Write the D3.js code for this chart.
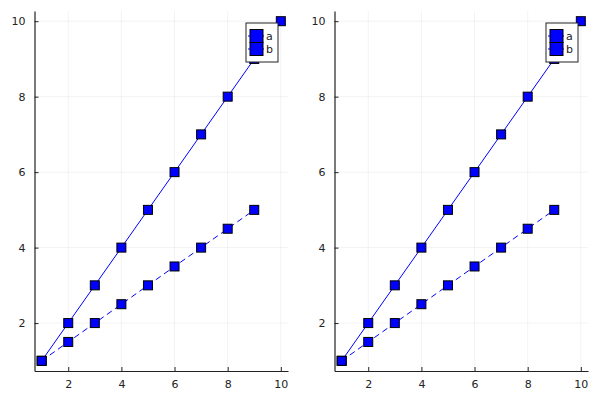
<!DOCTYPE html>
<html>
<head>
<meta charset="utf-8">
<script src="https://cdn.jsdelivr.net/npm/d3@7"></script>
<style>
body { margin: 0; background: #fff; }
text { font-family: "DejaVu Sans", sans-serif; }
</style>
</head>
<body>
<svg id="chart" width="600" height="400"></svg>
<script>
var xA = [1, 2, 3, 4, 5, 6, 7, 8, 9, 10];
var yA = [1, 2, 3, 4, 5, 6, 7, 8, 9, 10];
var xB = [1, 2, 3, 4, 5, 6, 7, 8, 9];
var yB = [1, 1.5, 2, 2.5, 3, 3.5, 4, 4.5, 5];
var seriesNames = ["a", "b"];
var tickVals = [2, 4, 6, 8, 10];

var svg = d3.select("#chart");
var panelOffsets = [0, 300];

panelOffsets.forEach(function(off) {
    drawPanel(off);
});

function drawPanel(off) {
    var left = off + 34.5, right = off + 288, top = 11, bottom = 371;
    var x = d3.scaleLinear().domain([0.73, 10.27]).range([left, right]);
    var y = d3.scaleLinear().domain([0.73, 10.27]).range([bottom, top]);
    var g = svg.append("g");

    // grid
    g.selectAll("line.gx").data(tickVals).enter().append("line")
        .attr("x1", function(d) { return x(d); }).attr("x2", function(d) { return x(d); })
        .attr("y1", top).attr("y2", bottom)
        .attr("stroke", "#000").attr("stroke-opacity", 0.1).attr("stroke-width", 0.5);
    g.selectAll("line.gy").data(tickVals).enter().append("line")
        .attr("y1", function(d) { return y(d); }).attr("y2", function(d) { return y(d); })
        .attr("x1", left).attr("x2", right)
        .attr("stroke", "#000").attr("stroke-opacity", 0.1).attr("stroke-width", 0.5);

    // axes
    var xAxis = g.append("g").attr("transform", "translate(0," + bottom + ")")
        .call(d3.axisBottom(x).tickValues(tickVals).tickSizeInner(-4).tickSizeOuter(0).tickPadding(9));
    var yAxis = g.append("g").attr("transform", "translate(" + left + ",0)")
        .call(d3.axisLeft(y).tickValues(tickVals).tickSizeInner(-4).tickSizeOuter(0).tickPadding(9));
    [xAxis, yAxis].forEach(function(a) {
        a.select(".domain").attr("stroke", "#222").attr("stroke-width", 1.2);
        a.selectAll(".tick line").attr("stroke", "#222");
        a.selectAll(".tick text").attr("fill", "#222").style("font-size", "11px")
            .style("font-family", "DejaVu Sans, sans-serif");
    });

    var line = d3.line().x(function(d) { return x(d[0]); }).y(function(d) { return y(d[1]); });
    var dataA = d3.zip(xA, yA);
    var dataB = d3.zip(xB, yB);

    g.append("path").datum(dataA).attr("d", line)
        .attr("fill", "none").attr("stroke", "#0000ff").attr("stroke-width", 1);
    g.append("path").datum(dataB).attr("d", line)
        .attr("fill", "none").attr("stroke", "#0000ff").attr("stroke-width", 1)
        .attr("stroke-dasharray", "6,4");

    var ms = 9;
    [dataA, dataB].forEach(function(data) {
        g.selectAll(null).data(data).enter().append("rect")
            .attr("x", function(d) { return x(d[0]) - ms / 2; })
            .attr("y", function(d) { return y(d[1]) - ms / 2; })
            .attr("width", ms).attr("height", ms)
            .attr("fill", "#0000ff").attr("stroke", "#000").attr("stroke-width", 1);
    });

    // legend
    var lg = g.append("g").attr("transform", "translate(" + (off + 246) + ",23)");
    lg.append("rect").attr("x", 0).attr("y", 0).attr("width", 32).attr("height", 39)
        .attr("fill", "#fff").attr("stroke", "#222").attr("stroke-width", 1);
    seriesNames.forEach(function(name, i) {
        var cy = 13 + i * 13;
        lg.append("line").attr("x1", 2).attr("x2", 18).attr("y1", cy).attr("y2", cy)
            .attr("stroke", "#0000ff").attr("stroke-width", 1)
            .attr("stroke-dasharray", i === 1 ? "3,2" : null);
        lg.append("rect").attr("x", 4).attr("y", cy - 6.5).attr("width", 13).attr("height", 13)
            .attr("fill", "#0000ff").attr("stroke", "#000").attr("stroke-width", 1);
        lg.append("text").attr("x", 20).attr("y", cy + 4).text(name)
            .style("font-size", "11px").attr("fill", "#222");
    });
}
</script>
</body>
</html>
